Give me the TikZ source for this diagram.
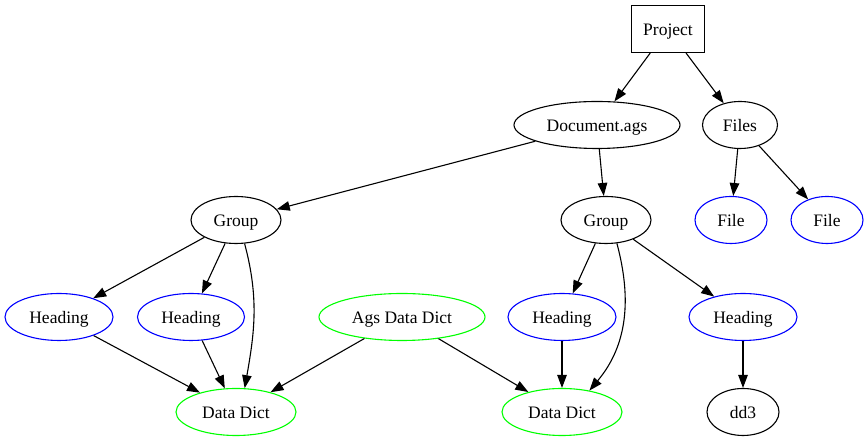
\documentclass[tikz,border=0pt]{standalone}
\usepackage{fontspec}
\setmainfont{Liberation Serif}
\usetikzlibrary{shapes.geometric,arrows.meta}
\begin{document}
\begin{tikzpicture}[x=1pt,y=1pt,
  every node/.style={font=\fontsize{17.5}{20}\selectfont, inner sep=0pt, text height=18pt, text depth=4pt},
  el/.style={ellipse, draw, line width=1.1pt, minimum height=47pt},
  blk/.style={el, draw=black},
  blu/.style={el, draw=blue},
  grn/.style={el, draw=green},
  boxn/.style={rectangle, draw, line width=1.1pt, minimum width=73pt, minimum height=47pt},
  arr/.style={line width=1.1pt, -{Triangle[length=13pt,width=9.5pt]}}
]
\useasboundingbox (0,0) rectangle (868,443);
\node[boxn] (proj) at (668,414) {Project};
\node[blk, minimum width=166pt] (doc) at (597,318) {Document.ags};
\node[blk, minimum width=75pt] (files) at (740,318) {Files};
\node[blk, minimum width=90pt] (g1) at (236,223) {Group};
\node[blk, minimum width=90pt] (g2) at (606,223) {Group};
\node[blu, minimum width=72pt] (f1) at (731,223) {File};
\node[blu, minimum width=72pt] (f2) at (827,223) {File};
\node[blu, minimum width=108pt] (h1) at (59,126) {Heading};
\node[blu, minimum width=107pt] (h2) at (191,126) {Heading};
\node[grn, minimum width=166pt] (ags) at (402,126) {Ags Data Dict};
\node[blu, minimum width=108pt] (h3) at (562,126) {Heading};
\node[blu, minimum width=108pt] (h4) at (743,126) {Heading};
\node[grn, minimum width=120pt] (dd1) at (236,31) {Data Dict};
\node[grn, minimum width=120pt] (dd2) at (562,31) {Data Dict};
\node[blk, minimum width=72pt] (dd3) at (743,31) {dd3};
\draw[arr] (proj) -- (doc);
\draw[arr] (proj) -- (files);
\draw[arr] (doc) -- (g1);
\draw[arr] (doc) -- (g2);
\draw[arr] (files) -- (f1);
\draw[arr] (files) -- (f2);
\draw[arr] (g1) -- (h1);
\draw[arr] (g1) -- (h2);
\draw[arr] (g1.-70) to[out=-75,in=80] (dd1.70);
\draw[arr] (h1) -- (dd1);
\draw[arr] (h2) -- (dd1);
\draw[arr] (ags) -- (dd1);
\draw[arr] (ags) -- (dd2);
\draw[arr] (g2) -- (h3);
\draw[arr] (g2.-65) to[out=-75,in=50] (dd2.38);
\draw[arr] (g2) -- (h4);
\draw[arr] (h3) -- (dd2);
\draw[arr] (h4) -- (dd3);
\end{tikzpicture}
\end{document}
